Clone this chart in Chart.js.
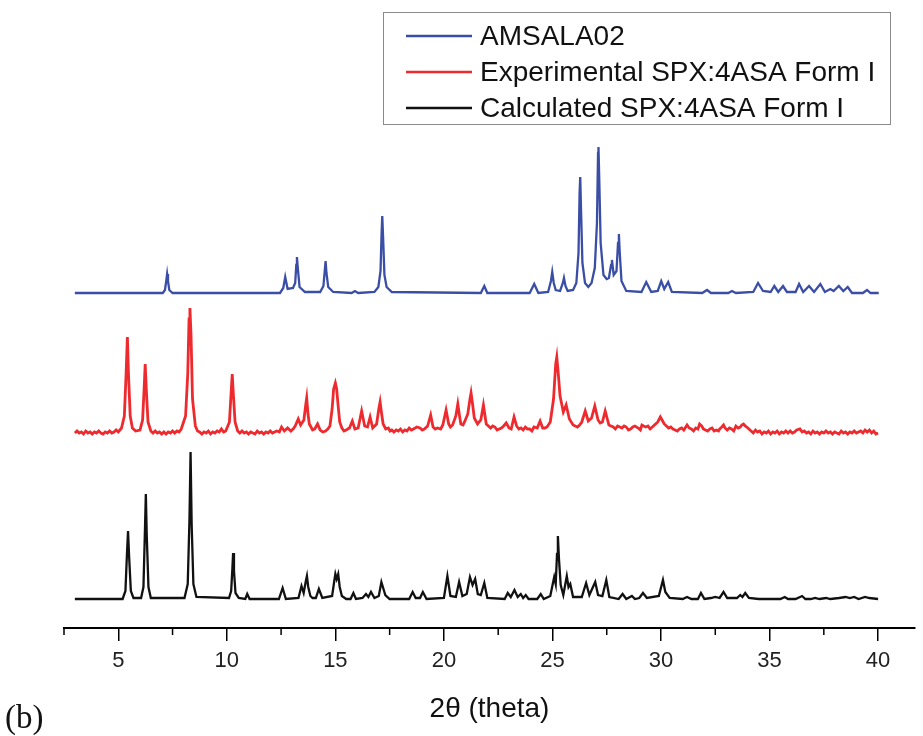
<!DOCTYPE html>
<html>
<head>
<meta charset="utf-8">
<script src="https://cdn.jsdelivr.net/npm/chart.js@4.4.1/dist/chart.umd.min.js"></script>
<style>
  html, body { margin: 0; padding: 0; background: #fff; }
  #wrap { position: relative; width: 923px; height: 736px; }
  #panel { position: absolute; left: 5px; top: 699px; font: 33px "Liberation Serif", "DejaVu Serif", serif; color: #111; }
</style>
</head>
<body>
<div id="wrap">
  <canvas id="xrd" width="923" height="736"></canvas>
  <div id="panel">(b)</div>
</div>
<script>
const amsalaPoints = [
  [3.0,0],[7.05,0],[7.15,3],[7.21,12],[7.25,19],[7.29,12],[7.35,3],[7.5,0],
  [12.45,0],[12.6,5],[12.69,16],[12.8,4],[13.05,5],[13.15,10],[13.2,28],[13.23,36],[13.27,25],[13.35,6],[13.6,1],
  [14.3,1],[14.45,7],[14.51,22],[14.55,32],[14.59,20],[14.67,6],[14.9,1],
  [15.75,0],[15.9,2],[16.05,0],
  [16.8,1],[16.98,6],[17.08,22],[17.13,60],[17.16,77],[17.2,55],[17.26,18],[17.36,6],[17.6,1],
  [21.7,0],[21.86,7],[22.0,0],
  [23.95,0],[24.16,9],[24.35,0],
  [24.8,1],[24.93,12],[24.99,21],[25.06,10],[25.15,3],[25.35,2],[25.48,10],[25.53,15],[25.6,7],[25.7,2],
  [25.95,3],[26.1,10],[26.2,40],[26.25,100],[26.28,116],[26.32,80],[26.38,30],[26.5,10],[26.65,6],
  [26.8,10],[26.95,25],[27.05,70],[27.1,140],[27.12,146],[27.16,110],[27.22,50],[27.35,18],[27.5,14],
  [27.6,15],[27.7,28],[27.74,33],[27.82,18],[27.95,22],[28.02,50],[28.06,59],[28.1,40],[28.18,12],[28.4,2],
  [29.1,1],[29.32,11],[29.55,1],
  [29.85,2],[30.01,12],[30.15,4],[30.33,11],[30.5,1],
  [31.9,0],[32.12,3],[32.3,0],
  [33.1,0],[33.27,2],[33.45,0],
  [34.25,1],[34.47,10],[34.7,2],
  [35.05,1],[35.22,7],[35.4,1],[35.62,7],[35.8,1],
  [36.2,1],[36.36,9],[36.55,1],[36.82,7],[37.05,1],[37.34,9],[37.55,1],[37.8,4],
  [37.95,2],[38.19,7],[38.4,2],[38.6,6],[38.8,0],
  [39.3,0],[39.49,3],[39.65,0],[40.03,0]
];

const experimentalPoints = [
  [3.0,1],[3.1,3],[3.2,1],[3.3,2],[3.4,0],[3.5,3],[3.6,1],[3.7,2],[3.8,0],[3.9,2],[4.0,1],
  [4.1,3],[4.2,1],[4.3,0],[4.4,2],[4.5,1],[4.6,3],[4.7,1],[4.8,2],[4.9,4],[5.0,2],
  [5.15,6],[5.28,18],[5.36,60],[5.42,97],[5.47,60],[5.55,18],[5.65,6],[5.8,3],
  [6.0,4],[6.12,14],[6.19,45],[6.24,70],[6.29,45],[6.37,12],[6.5,3],
  [6.6,1],[6.7,3],[6.8,1],[6.9,2],[7.0,0],[7.1,2],[7.2,0],[7.3,2],[7.4,1],[7.5,3],[7.6,1],[7.7,3],[7.8,2],
  [7.9,5],[8.1,18],[8.2,60],[8.26,115],[8.3,126],[8.35,100],[8.42,35],[8.55,8],[8.65,3],
  [8.75,2],[8.85,0],[8.95,2],[9.05,1],[9.15,3],[9.25,0],[9.35,2],[9.45,1],[9.55,3],[9.65,2],[9.75,5],[9.85,2],
  [9.95,3],[10.12,12],[10.2,42],[10.25,60],[10.3,40],[10.38,12],[10.5,3],
  [10.6,1],[10.7,3],[10.8,1],[10.9,2],[11.0,0],[11.1,2],[11.2,1],[11.3,0],[11.4,3],[11.5,1],[11.6,2],
  [11.7,0],[11.8,2],[11.9,1],[12.0,3],[12.1,1],[12.2,2],[12.3,3],[12.42,2],
  [12.52,7],[12.65,3],[12.8,6],[12.95,3],[13.05,5],[13.15,8],[13.29,15],[13.4,9],
  [13.55,14],[13.64,30],[13.68,36],[13.74,20],[13.8,10],[13.95,4],[14.05,5],[14.18,10],[14.3,4],[14.42,2],
  [14.55,3],[14.65,5],[14.75,8],[14.85,25],[14.92,45],[15.0,51],[15.06,45],[15.12,30],[15.2,12],[15.3,6],
  [15.4,3],[15.5,4],[15.65,6],[15.78,13],[15.9,5],[16.05,6],[16.21,23],
  [16.35,8],[16.48,7],[16.6,17],[16.72,6],[16.9,10],[17.0,25],[17.06,32],[17.12,22],[17.2,10],[17.32,5],
  [17.44,6],[17.52,3],[17.6,4],[17.7,2],[17.8,4],[17.9,3],[18.0,5],[18.1,2],[18.2,4],[18.3,3],[18.4,6],
  [18.5,4],[18.6,5],[18.75,7],[18.9,6],[19.0,4],[19.1,5],[19.25,8],[19.39,19],
  [19.5,7],[19.6,5],[19.7,6],[19.85,5],[19.95,9],[20.1,24],[20.22,10],[20.3,7],[20.4,9],[20.55,18],
  [20.64,30],[20.72,18],[20.78,10],[20.88,9],[20.95,12],[21.1,20],[21.2,35],[21.25,41],[21.32,30],
  [21.4,16],[21.55,10],[21.7,14],[21.82,29],[21.95,10],[22.05,8],[22.15,6],[22.25,8],[22.35,7],
  [22.45,4],[22.55,5],[22.65,6],[22.75,8],[22.87,11],[23.0,6],[23.1,5],[23.23,17],[23.35,8],[23.45,5],
  [23.55,6],[23.65,4],[23.75,7],[23.85,5],[23.95,5],[24.05,3],[24.15,7],[24.3,6],[24.43,13],[24.55,6],
  [24.65,6],[24.75,7],[24.9,12],[25.05,35],[25.15,70],[25.2,77],[25.27,60],[25.35,38],
  [25.5,22],[25.63,29],[25.78,15],[25.95,9],[26.05,8],[26.15,7],[26.25,9],[26.35,12],[26.51,23],
  [26.65,13],[26.8,16],[26.95,28],[27.1,14],[27.2,11],[27.3,12],[27.43,23],[27.6,9],[27.7,8],
  [27.8,7],[27.9,5],[28.0,8],[28.1,7],[28.2,6],[28.3,8],[28.4,7],[28.5,4],[28.6,5],[28.7,7],
  [28.8,8],[28.95,6],[29.05,4],[29.12,9],[29.2,8],[29.3,7],[29.4,8],[29.5,5],[29.6,7],[29.7,9],
  [29.85,12],[29.97,17],[30.05,14],[30.15,10],[30.25,8],[30.35,6],[30.45,7],
  [30.55,5],[30.65,4],[30.75,3],[30.85,5],[30.95,6],[31.05,4],[31.2,9],[31.3,6],[31.4,5],[31.5,3],
  [31.6,6],[31.7,5],[31.78,10],[31.88,8],[31.95,5],[32.05,4],[32.15,3],
  [32.25,5],[32.35,6],[32.45,3],[32.55,4],[32.65,3],[32.7,5],[32.8,7],[32.88,9],[32.95,6],[33.05,4],
  [33.15,6],[33.25,5],[33.35,3],[33.45,8],[33.55,6],[33.65,7],[33.72,9],[33.8,10],[33.88,8],
  [33.95,7],[34.05,5],[34.15,3],[34.25,1],[34.35,4],[34.45,2],[34.55,3],[34.65,0],[34.75,2],
  [34.85,1],[34.95,3],[35.05,0],[35.15,2],[35.25,1],[35.35,3],[35.45,0],[35.55,2],[35.65,1],
  [35.75,3],[35.85,1],[35.95,3],[36.05,1],[36.15,2],[36.25,4],[36.4,5],[36.5,2],[36.6,3],
  [36.7,1],[36.8,2],[36.9,0],[37.0,3],[37.1,1],[37.2,2],[37.3,0],[37.4,2],[37.5,1],[37.6,3],
  [37.7,1],[37.8,2],[37.9,0],[38.0,2],[38.1,1],[38.2,0],[38.3,3],[38.4,1],[38.5,2],[38.6,0],
  [38.7,2],[38.8,1],[38.9,3],[39.0,1],[39.1,2],[39.2,3],[39.3,1],[39.4,4],[39.5,2],[39.6,4],
  [39.7,1],[39.8,3],[39.9,0],[40.0,1]
];

const calculatedPoints = [
  [3.0,0],[5.2,0],[5.33,8],[5.4,45],[5.45,68],[5.5,42],[5.58,8],[5.7,1],
  [6.05,1],[6.16,12],[6.23,70],[6.27,105],[6.31,65],[6.39,12],[6.5,1],
  [8.05,1],[8.2,15],[8.28,80],[8.33,147],[8.38,75],[8.46,15],[8.6,2],
  [10.1,1],[10.2,8],[10.26,32],[10.29,46],[10.33,28],[10.4,6],[10.55,1],
  [10.85,0],[10.94,5],[11.05,0],
  [12.4,0],[12.57,11],[12.72,0],
  [13.3,1],[13.44,13],[13.54,6],[13.64,18],[13.69,23],[13.75,12],[13.85,3],[13.95,1],
  [14.1,1],[14.24,10],[14.4,1],
  [14.85,3],[14.95,18],[15.0,25],[15.06,20],[15.13,25],[15.2,12],[15.3,3],[15.5,0],
  [15.7,0],[15.83,6],[15.95,0],[16.25,1],[16.41,5],[16.52,2],[16.64,7],[16.8,1],
  [17.0,3],[17.12,17],[17.3,4],[17.5,0],
  [18.4,0],[18.56,7],[18.7,1],[18.9,1],[19.03,7],[19.2,0],
  [20.0,1],[20.16,23],[20.3,3],
  [20.55,2],[20.7,17],[20.85,3],
  [21.05,5],[21.2,22],[21.32,14],[21.44,20],[21.56,5],
  [21.7,4],[21.86,16],[22.0,1],
  [22.8,0],[22.94,6],[23.08,2],[23.25,9],[23.4,2],[23.54,5],[23.65,1],[23.77,4],[23.9,0],
  [24.3,0],[24.46,5],[24.6,0],
  [24.9,3],[25.08,22],[25.15,15],[25.21,45],[25.25,63],[25.3,40],[25.38,14],[25.5,4],
  [25.66,23],[25.74,12],[25.82,15],[25.95,2],
  [26.35,2],[26.55,16],[26.7,4],[26.97,17],[27.1,4],
  [27.3,3],[27.48,19],[27.62,2],
  [28.05,0],[28.23,5],[28.4,0],[28.66,3],[28.8,0],
  [29.0,1],[29.17,6],[29.35,1],
  [29.9,3],[30.09,19],[30.2,7],[30.4,1],
  [31.0,0],[31.2,2],[31.4,0],[31.7,0],[31.84,6],[32.0,0],
  [32.3,1],[32.5,2],[32.7,1],[32.88,7],[33.05,1],
  [33.5,1],[33.65,4],[33.75,2],[33.88,6],[34.05,1],
  [34.5,0],[35.5,0],[35.7,2],[35.85,0],[36.2,0],[36.5,3],[36.65,0],
  [36.9,0],[37.1,1],[37.3,0],[37.6,1],[37.8,0],[38.2,1],[38.5,2],[38.7,1],[38.9,2],[39.1,0],
  [39.4,2],[39.6,1],[40.0,0]
];

// vertical stacking of the three traces
const seriesLabels = ["AMSALA02", "Experimental SPX:4ASA Form I", "Calculated SPX:4ASA Form I"];
const seriesColours = ["#3b4ea6", "#ee2a2e", "#111111"];
const seriesOffsets = [335, 194, 29];

const xTickValues = [5, 10, 15, 20, 25, 30, 35, 40];
const xMinorValues = [2.5, 7.5, 12.5, 17.5, 22.5, 27.5, 32.5, 37.5];

const FONT = '"Liberation Sans", Arial, Helvetica, sans-serif';

function shifted(points, offset) {
  return points.map((p) => ({ x: p[0], y: p[1] + offset }));
}

const minorTicks = {
  id: "minorTicks",
  afterDraw(chart) {
    const ctx = chart.ctx;
    const x = chart.scales.x;
    const bottom = chart.chartArea.bottom;
    ctx.save();
    ctx.strokeStyle = "#000";
    ctx.lineWidth = 1.5;
    xMinorValues.forEach((v) => {
      const px = x.getPixelForValue(v);
      ctx.beginPath();
      ctx.moveTo(px, bottom);
      ctx.lineTo(px, bottom + 7);
      ctx.stroke();
    });
    ctx.restore();
  },
};

const boxLegend = {
  id: "boxLegend",
  afterDraw(chart) {
    const ctx = chart.ctx;
    ctx.save();
    ctx.strokeStyle = "#8a8a8a";
    ctx.lineWidth = 1;
    ctx.strokeRect(383.5, 12.5, 507, 112);
    ctx.font = "28px " + FONT;
    ctx.textBaseline = "middle";
    const rows = [36, 72, 108];
    chart.data.datasets.forEach((ds, i) => {
      ctx.strokeStyle = ds.borderColor;
      ctx.lineWidth = 2.5;
      ctx.beginPath();
      ctx.moveTo(406, rows[i]);
      ctx.lineTo(472, rows[i]);
      ctx.stroke();
      ctx.fillStyle = "#111";
      ctx.fillText(ds.label, 480, rows[i] + 1);
    });
    ctx.restore();
  },
};

new Chart(document.getElementById("xrd"), {
  type: "line",
  data: {
    datasets: [amsalaPoints, experimentalPoints, calculatedPoints].map((pts, i) => ({
      label: seriesLabels[i],
      data: shifted(pts, seriesOffsets[i]),
      borderColor: seriesColours[i],
      borderWidth: i === 1 ? 2.8 : 2.3,
      pointRadius: 0,
      tension: 0,
      fill: false,
    })),
  },
  options: {
    responsive: false,
    animation: false,
    layout: { padding: { left: 64, right: 8, top: 0, bottom: 0 } },
    plugins: { legend: { display: false }, tooltip: { enabled: false } },
    scales: {
      x: {
        type: "linear",
        min: 2.5,
        max: 41.7,
        afterBuildTicks: (scale) => {
          scale.ticks = xTickValues.map((v) => ({ value: v }));
        },
        grid: { drawOnChartArea: false, drawTicks: true, tickLength: 13, color: "#000", lineWidth: 1.5 },
        border: { display: true, color: "#000", width: 2 },
        ticks: { color: "#222", font: { family: FONT, size: 22 }, padding: 7, maxRotation: 0 },
        title: {
          display: true,
          text: "2θ (theta)",
          color: "#111",
          font: { family: FONT, size: 28 },
          padding: { top: 11, bottom: 10 },
        },
      },
      y: { display: false, min: 0, max: 628 },
    },
  },
  plugins: [minorTicks, boxLegend],
});
</script>
</body>
</html>
